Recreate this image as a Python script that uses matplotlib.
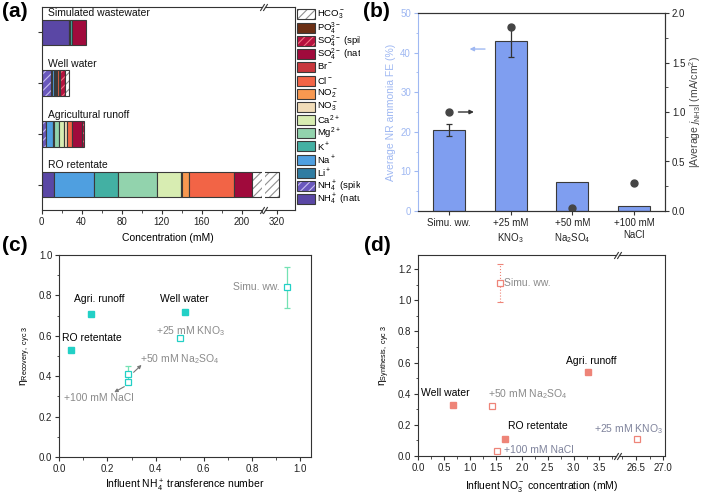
import matplotlib
matplotlib.use('Agg')
import matplotlib.pyplot as plt
from matplotlib.patches import Rectangle
from matplotlib.transforms import Bbox, TransformedBbox
import numpy as np

plt.rcParams['font.family'] = ['Liberation Sans', 'DejaVu Sans']
plt.rcParams['mathtext.fontset'] = 'custom'
plt.rcParams['mathtext.rm'] = 'Liberation Sans'
plt.rcParams['mathtext.it'] = 'Liberation Sans:italic'
plt.rcParams['mathtext.bf'] = 'Liberation Sans:bold'
plt.rcParams['axes.edgecolor'] = '#333333'
plt.rcParams['axes.linewidth'] = 0.8
plt.rcParams['hatch.linewidth'] = 0.8

# ---------------- data ----------------
# (a) ion composition, stacking order left -> right
ions = ['NH4 natural', 'NH4 spiked', 'Li', 'Na', 'K', 'Mg', 'Ca', 'NO3', 'NO2',
        'Cl', 'Br', 'SO4 natural', 'SO4 spiked', 'PO4', 'HCO3']
ion_labels = ['NH$_4^+$ (natural)', 'NH$_4^+$ (spiked)', 'Li$^+$', 'Na$^+$', 'K$^+$',
              'Mg$^{2+}$', 'Ca$^{2+}$', 'NO$_3^-$', 'NO$_2^-$', 'Cl$^-$', 'Br$^-$',
              'SO$_4^{2-}$ (natural)', 'SO$_4^{2-}$ (spiked)', 'PO$_4^{3-}$', 'HCO$_3^-$']
ion_colors = ['#5a47a5', '#6a58bd', '#2f7ca2', '#4f9fe0', '#43b0a3', '#92d3ad',
              '#d8edb2', '#f1dcb8', '#f89850', '#f26446', '#c8363c', '#a00a3c',
              '#b5123f', '#6b2f14', '#ffffff']
ion_hatch = [None, '////', None, None, None, None, None, None, None, None, None,
             None, '////', None, '////']
hatch_colors = [None, '#c8c0f0', None, None, None, None, None, None, None, None, None,
                None, '#f07080', None, '#909090']

samples = ['Simulated wastewater', 'Well water', 'Agricultural runoff', 'RO retentate']
simulated_ww = [27.5, 0, 0, 0.8, 1.7, 0, 0, 0, 0, 0, 0, 14.0, 0, 0, 0]
well_water = [0, 9.2, 1.0, 2.3, 0.7, 1.0, 1.0, 0.3, 0.3, 1.3, 0.4, 1.2, 4.8, 0.3, 4.0]
agri_runoff = [0, 4.3, 0.5, 6.2, 1.7, 5.0, 4.5, 3.3, 0, 5.0, 0, 10.0, 2.3, 0, 0]
ro_retentate = [12.0, 0, 0, 40.0, 24.0, 39.0, 24.0, 1.5, 6.5, 45.0, 0, 18.0, 0, 0, 112.0]

# (b)
b_cases = ['Simu. ww.', '+25 mM\nKNO$_3$', '+50 mM\nNa$_2$SO$_4$', '+100 mM\nNaCl']
b_fe = [20.5, 43.0, 7.3, 1.2]
b_fe_err = [1.5, 4.0, 0, 0]
b_j = [1.0, 1.86, 0.03, 0.28]

# (c)
c_real_names = ['RO retentate', 'Agri. runoff', 'Well water']
c_real_x = [0.05, 0.13, 0.52]
c_real_y = [0.53, 0.71, 0.72]
c_test_names = ['Simu. ww.', '+25 mM KNO$_3$', '+50 mM Na$_2$SO$_4$', '+100 mM NaCl']
c_test_x = [0.945, 0.50, 0.285, 0.285]
c_test_y = [0.84, 0.59, 0.41, 0.37]
c_test_err = [0.10, 0, 0.04, 0]

# (d)
d_real_names = ['Well water', 'RO retentate', 'Agri. runoff']
d_real_x = [0.68, 1.68, 3.27]
d_real_y = [0.325, 0.11, 0.54]
d_test_names = ['Simu. ww.', '+50 mM Na$_2$SO$_4$', '+100 mM NaCl', '+25 mM KNO$_3$']
d_test_x = [1.58, 1.42, 1.53, 26.52]
d_test_y = [1.11, 0.32, 0.03, 0.11]
d_test_err = [0.12, 0, 0, 0]

W, H = 702, 494
fig = plt.figure(figsize=(W / 100, H / 100), dpi=100)


def box(l, t, r, b):
    return [l / W, 1 - b / H, (r - l) / W, (b - t) / H]


def style(ax, labelsize=7):
    ax.tick_params(which='major', direction='out', length=3, width=0.8,
                   labelsize=labelsize, pad=2, colors='#333333', labelcolor='#222222')
    ax.tick_params(which='minor', direction='out', length=1.8, width=0.6, colors='#333333')


def brk(ax, xs):
    kw = dict(marker=[(-1, -1.6), (1, 1.6)], markersize=5, linestyle='none',
              color='#333333', mec='#333333', mew=0.8, clip_on=False, transform=ax.transAxes)
    for x in xs:
        ax.plot([x, x], [0, 1], **kw)


edge = '#3a3a3a'
gray_txt = '#8a8a8a'

# ---------------- (a) ----------------
ax_a = fig.add_axes(box(41.7, 7, 262, 210))
ax_a2 = fig.add_axes(box(265, 7, 295, 210))
data_a = [simulated_ww, well_water, agri_runoff, ro_retentate]
for ax in (ax_a, ax_a2):
    for i, vals in enumerate(data_a):
        left = 0.0
        for k, v in enumerate(vals):
            if v <= 0:
                continue
            if ion_hatch[k]:
                ax.barh(i, v, left=left, height=0.5, color=ion_colors[k], hatch=ion_hatch[k],
                        edgecolor=hatch_colors[k], linewidth=0)
                ax.barh(i, v, left=left, height=0.5, facecolor='none', edgecolor=edge, linewidth=0.8)
            else:
                ax.barh(i, v, left=left, height=0.5, color=ion_colors[k], edgecolor=edge, linewidth=0.8)
            left += v
    ax.set_ylim(3.5, -0.5)
    style(ax)

for i, name in enumerate(samples):
    ax_a.text(6.5, i - 0.38, name, fontsize=7.5, va='center', ha='left', color='#111111')

ax_a.set_xlim(0, 220.5)
ax_a.set_xticks(np.arange(0, 201, 40))
ax_a.set_xticks(np.arange(20, 221, 40), minor=True)
ax_a.set_yticks([0, 1, 2, 3])
ax_a.set_yticklabels([])
ax_a.spines['right'].set_visible(False)
ax_a2.set_xlim(308, 338)
ax_a2.set_xticks([320])
ax_a2.set_yticks([])
ax_a2.spines['left'].set_visible(False)
brk(ax_a, [1.0])
brk(ax_a2, [0.0])
fig.text(168 / W, 1 - 238 / H, 'Concentration (mM)', fontsize=7.5, ha='center', va='center')

# legend drawn by hand, entries top -> bottom, text cut at the panel (b) edge
clipbox = TransformedBbox(Bbox([[0, 0], [360 / W, 1]]), fig.transFigure)
for j, k in enumerate(range(len(ions) - 1, -1, -1)):
    yc = 14.5 + j * 13.2
    r = Rectangle((297 / W, 1 - (yc + 5) / H), 18 / W, 10 / H, transform=fig.transFigure,
                  facecolor=ion_colors[k], edgecolor=edge, linewidth=0.8)
    if ion_hatch[k]:
        r.set_edgecolor(hatch_colors[k])
        r.set_hatch(ion_hatch[k])
        r.set_linewidth(0)
        fig.patches.append(r)
        fig.patches.append(Rectangle((297 / W, 1 - (yc + 5) / H), 18 / W, 10 / H,
                                     transform=fig.transFigure, facecolor='none',
                                     edgecolor=edge, linewidth=0.8))
    else:
        fig.patches.append(r)
    t = fig.text(317 / W, 1 - yc / H, ion_labels[k], fontsize=6.8, va='center', ha='left')
    t.set_clip_on(True)
    t.set_clip_box(clipbox)

# ---------------- (b) ----------------
light_blue = '#9fb8f2'
ax_b = fig.add_axes(box(418, 13, 665, 211))
xb = np.arange(len(b_cases))
ax_b.bar(xb, b_fe, width=0.52, color='#7f9ef0', edgecolor=edge, linewidth=0.8)
for i in range(len(b_cases)):
    if b_fe_err[i] > 0:
        ax_b.errorbar(xb[i], b_fe[i], yerr=b_fe_err[i], color='#333333', capsize=2.5,
                      elinewidth=0.9, capthick=0.9)
ax_b.set_xlim(-0.5, 3.5)
ax_b.set_ylim(0, 50)
ax_b.set_yticks(np.arange(0, 51, 10))
ax_b.set_yticks(np.arange(5, 50, 10), minor=True)
ax_b.set_xticks(xb)
ax_b.set_xticklabels(b_cases, linespacing=1.3)
style(ax_b)
ax_b.tick_params(axis='y', which='both', colors=light_blue, labelcolor=light_blue)
ax_b.spines['left'].set_color(light_blue)
ax_b.set_ylabel('Average NR ammonia FE (%)', color=light_blue, fontsize=7.5, labelpad=3)
ax_b.annotate('', xy=(0.29, 40.9), xytext=(0.63, 40.9),
              arrowprops=dict(arrowstyle='-|>', color=light_blue, lw=1, mutation_scale=6))

ax_b2 = ax_b.twinx()
ax_b2.plot(xb, b_j, 'o', color='#454545', markersize=5, linestyle='none')
ax_b2.set_ylim(0, 2.0)
ax_b2.set_yticks(np.arange(0, 2.01, 0.5))
ax_b2.set_yticks(np.arange(0.25, 2.0, 0.5), minor=True)
ax_b2.set_yticklabels(['0.0', '0.5', '1.0', '1.5', '2.0'])
style(ax_b2)
ax_b2.spines['left'].set_visible(False)
ax_b2.set_ylabel('|Average $j_{\\mathrm{NH3}}$| (mA/cm$^2$)', fontsize=7.5, color='#444444', labelpad=1)
ax_b2.annotate('', xy=(0.45, 1.0), xytext=(0.11, 1.0),
               arrowprops=dict(arrowstyle='-|>', color='#333333', lw=1, mutation_scale=6))

# ---------------- (c) ----------------
cyan = '#22d0c6'
ax_c = fig.add_axes(box(59.3, 255, 311, 457))
ax_c.plot(c_real_x, c_real_y, 's', color=cyan, markersize=5, linestyle='none')
for i in range(len(c_test_x)):
    if c_test_err[i] > 0:
        ax_c.errorbar(c_test_x[i], c_test_y[i], yerr=c_test_err[i], color='#74e2b4',
                      capsize=2.5, elinewidth=0.9, capthick=0.9, zorder=1)
ax_c.plot(c_test_x, c_test_y, 's', mfc='white', mec=cyan, mew=0.9, markersize=5,
          linestyle='none', zorder=3)
ax_c.text(0.06, 0.765, c_real_names[1], fontsize=7.5)
ax_c.text(0.42, 0.765, c_real_names[2], fontsize=7.5)
ax_c.text(0.01, 0.575, c_real_names[0], fontsize=7.5)
ax_c.text(0.915, 0.84, c_test_names[0], fontsize=7.5, color=gray_txt, ha='right', va='center')
ax_c.text(0.40, 0.625, c_test_names[1], fontsize=7.5, color=gray_txt, va='center')
ax_c.text(0.335, 0.485, c_test_names[2], fontsize=7.5, color=gray_txt, va='center')
ax_c.text(0.02, 0.29, c_test_names[3], fontsize=7.5, color=gray_txt, va='center')
ax_c.annotate('', xy=(0.35, 0.465), xytext=(0.30, 0.41),
              arrowprops=dict(arrowstyle='-|>', color='#777777', lw=0.8, mutation_scale=5))
ax_c.annotate('', xy=(0.218, 0.314), xytext=(0.28, 0.355),
              arrowprops=dict(arrowstyle='-|>', color='#777777', lw=0.8, mutation_scale=5))
ax_c.set_xlim(0, 1.045)
ax_c.set_ylim(0, 1.0)
ax_c.set_xticks(np.arange(0, 1.01, 0.2))
ax_c.set_xticks(np.arange(0.1, 1.01, 0.2), minor=True)
ax_c.set_yticks(np.arange(0, 1.01, 0.2))
ax_c.set_yticks(np.arange(0.1, 1.0, 0.2), minor=True)
ax_c.set_xticklabels(['0.0', '0.2', '0.4', '0.6', '0.8', '1.0'])
ax_c.set_yticklabels(['0.0', '0.2', '0.4', '0.6', '0.8', '1.0'])
style(ax_c)
ax_c.set_ylabel('η$_{\\mathrm{Recovery,\\ cyc\\ 3}}$', fontsize=7.5, labelpad=4)
fig.text(185 / W, 1 - 486 / H, 'Influent NH$_4^+$ transference number', fontsize=7.5,
         ha='center', va='center')

# ---------------- (d) ----------------
salmon = '#ee8478'
blue_gray = '#7f839c'
ax_d = fig.add_axes(box(418.3, 255, 616, 456))
ax_d2 = fig.add_axes(box(619, 255, 665, 456))
for ax in (ax_d, ax_d2):
    ax.plot(d_real_x, d_real_y, 's', color=salmon, markersize=5, linestyle='none')
    for i in range(len(d_test_x)):
        if d_test_err[i] > 0:
            ax.errorbar(d_test_x[i], d_test_y[i], yerr=d_test_err[i], color=salmon,
                        capsize=2.5, elinewidth=0.8, capthick=0.8, ls='none',
                        zorder=1)[2][0].set_linestyle(':')
    ax.plot(d_test_x, d_test_y, 's', mfc='white', mec=salmon, mew=0.9, markersize=5,
            linestyle='none', zorder=3)
    ax.set_ylim(0, 1.29)
    style(ax)
ax_d.set_xlim(0, 3.82)
ax_d.set_xticks(np.arange(0, 3.51, 0.5))
ax_d.set_xticks(np.arange(0.25, 3.8, 0.5), minor=True)
ax_d.set_xticklabels(['0.0', '0.5', '1.0', '1.5', '2.0', '2.5', '3.0', '3.5'])
ax_d.set_yticks(np.arange(0, 1.21, 0.2))
ax_d.set_yticks(np.arange(0.1, 1.3, 0.2), minor=True)
ax_d.set_yticklabels(['0.0', '0.2', '0.4', '0.6', '0.8', '1.0', '1.2'])
ax_d.spines['right'].set_visible(False)
ax_d2.set_xlim(26.19, 27.03)
ax_d2.set_xticks([26.5, 27.0])
ax_d2.set_xticks([26.25, 26.75], minor=True)
ax_d2.set_xticklabels(['26.5', '27.0'])
ax_d2.set_yticks([])
ax_d2.spines['left'].set_visible(False)
brk(ax_d, [1.0])
brk(ax_d2, [0.0])

ax_d.text(1.65, 1.11, d_test_names[0], fontsize=7.5, color=gray_txt, va='center')
ax_d.text(3.82, 0.61, d_real_names[2], fontsize=7.5, ha='right', va='center')
ax_d.text(0.06, 0.405, d_real_names[0], fontsize=7.5, va='center')
ax_d.text(1.34, 0.40, d_test_names[1], fontsize=7.5, color=gray_txt, va='center')
ax_d.text(1.73, 0.19, d_real_names[1], fontsize=7.5, va='center')
ax_d.text(1.66, 0.04, d_test_names[2], fontsize=7.5, color=blue_gray, va='center')
ax_d2.text(27.0, 0.175, d_test_names[3], fontsize=7.5, color=blue_gray, ha='right',
           va='center', clip_on=False)
ax_d.set_ylabel('η$_{\\mathrm{Synthesis,\\ cyc\\ 3}}$', fontsize=7.5, labelpad=4)
fig.text(541.5 / W, 1 - 486 / H, 'Influent NO$_3^-$ concentration (mM)', fontsize=7.5,
         ha='center', va='center')

# panel letters
for lbl, x, y in [('(a)', 2, 2), ('(b)', 363, 2), ('(c)', 2, 236), ('(d)', 364, 236)]:
    fig.text(x / W, 1 - y / H, lbl, fontsize=15, fontweight='bold', ha='left', va='top')

fig.savefig('out.png', dpi=100)
